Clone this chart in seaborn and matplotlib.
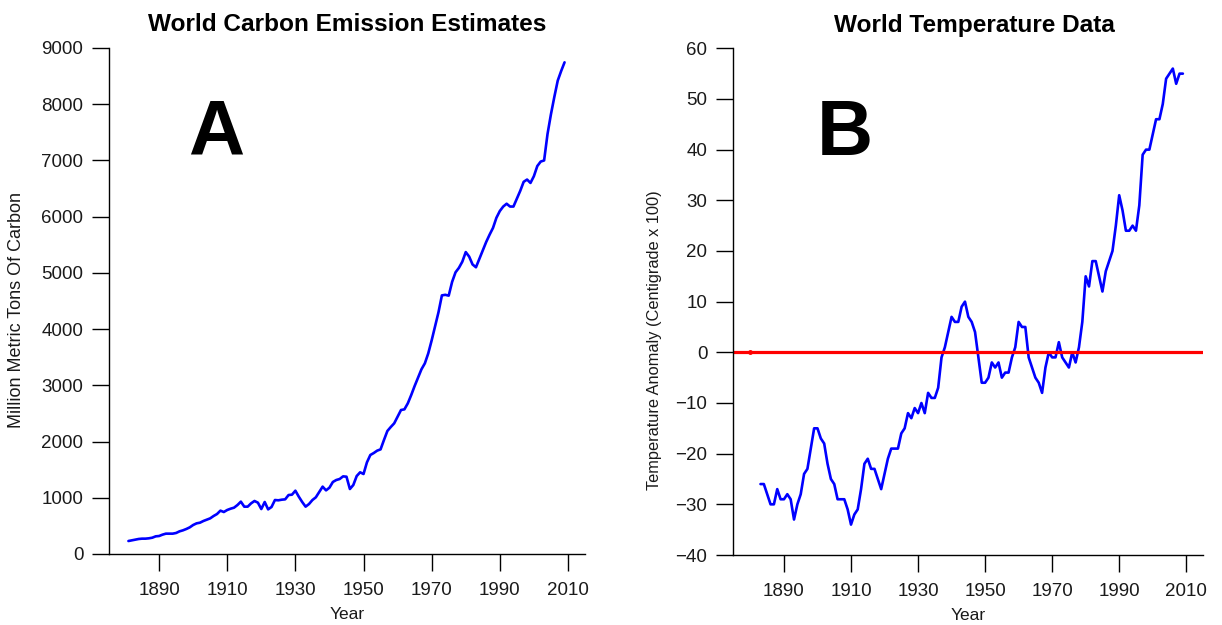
import numpy as np
import pandas as pd
import matplotlib
matplotlib.use("Agg")
import matplotlib.pyplot as plt
import seaborn as sns

# World carbon emissions, million metric tons of carbon, 1881-2009
carbon_years = list(range(1881, 2010))
carbon_values = [
    231, 243, 255, 267, 273, 273, 279, 290, 314, 320,          # 1881-1890
    344, 362, 362, 362, 374, 403, 421, 445, 474, 516,          # 1891-1900
    545, 557, 587, 611, 634, 676, 711, 771, 747, 783,          # 1901-1910
    806, 824, 871, 931, 842, 842, 901, 943, 913, 800,          # 1911-1920
    925, 794, 836, 960, 955, 966, 972, 1049, 1055, 1126,       # 1921-1930
    1020, 925, 842, 889, 960, 1008, 1103, 1198, 1132, 1180,    # 1931-1940
    1281, 1316, 1334, 1381, 1375, 1156, 1227, 1387, 1453, 1423,  # 1941-1950
    1630, 1761, 1796, 1838, 1861, 2028, 2188, 2259, 2324, 2443,  # 1951-1960
    2561, 2573, 2680, 2828, 2988, 3136, 3285, 3391, 3569, 3800,  # 1961-1970
    4050, 4300, 4600, 4610, 4595, 4840, 5010, 5090, 5200, 5370,  # 1971-1980
    5290, 5150, 5100, 5250, 5400, 5550, 5680, 5800, 5980, 6100,  # 1981-1990
    6180, 6230, 6180, 6180, 6320, 6460, 6620, 6660, 6600, 6720,  # 1991-2000
    6900, 6980, 7000, 7470, 7820, 8130, 8420, 8590, 8745,        # 2001-2009
]

# Global temperature anomaly, centigrade x 100, 1883-2009
temp_years = list(range(1883, 2010))
temp_values = [
    -26, -26, -28, -30, -30, -27, -29, -29,                    # 1883-1890
    -28, -29, -33, -30, -28, -24, -23, -19, -15, -15,          # 1891-1900
    -17, -18, -22, -25, -26, -29, -29, -29, -31, -34,          # 1901-1910
    -32, -31, -27, -22, -21, -23, -23, -25, -27, -24,          # 1911-1920
    -21, -19, -19, -19, -16, -15, -12, -13, -11, -12,          # 1921-1930
    -10, -12, -8, -9, -9, -7, -1, 1, 4, 7,                     # 1931-1940
    6, 6, 9, 10, 7, 6, 4, -1, -6, -6,                           # 1941-1950
    -5, -2, -3, -2, -5, -4, -4, -1, 1, 6,                       # 1951-1960
    5, 5, -1, -3, -5, -6, -8, -3, 0, -1,                        # 1961-1970
    -1, 2, -1, -2, -3, 0, -2, 1, 6, 15,                         # 1971-1980
    13, 18, 18, 15, 12, 16, 18, 20, 25, 31,                     # 1981-1990
    28, 24, 24, 25, 24, 29, 39, 40, 40, 43,                     # 1991-2000
    46, 46, 49, 54, 55, 56, 53, 55, 55,                         # 2001-2009
]

baseline_year = [1880]
baseline_value = [0]

carbon_ticks = list(range(0, 9001, 1000))
temp_ticks = list(range(-40, 61, 10))
year_ticks = list(range(1890, 2011, 20))

carbon_df = pd.DataFrame({"Year": carbon_years, "Carbon": carbon_values})
temp_df = pd.DataFrame({"Year": temp_years, "Anomaly": temp_values})

sns.set_style("ticks")
plt.rcParams["font.family"] = ["Liberation Sans", "DejaVu Sans"]
plt.rcParams["axes.unicode_minus"] = True
plt.rcParams["text.color"] = "black"

fig = plt.figure(figsize=(12.22, 6.25), dpi=100)
ax1 = fig.add_axes([109 / 1222, 1 - 554 / 625, 476 / 1222, 506 / 625])
ax2 = fig.add_axes([733 / 1222, 1 - 555 / 625, 470 / 1222, 506.7 / 625])

tick_kw = dict(length=12.5, width=1.0, color="black", labelsize=13.5,
               labelcolor="#1a1a1a", direction="out")
label_color = "#1a1a1a"

# Panel A: carbon emissions
sns.lineplot(data=carbon_df, x="Year", y="Carbon", ax=ax1, color="#0000ff",
             linewidth=1.9, estimator=None)
ax1.set_xlim(1875.3, 2015)
ax1.set_ylim(0, 9000)
ax1.set_yticks(carbon_ticks)
ax1.set_xticks(year_ticks)
ax1.set_title("World Carbon Emission Estimates", fontsize=17.6,
              fontweight="bold", pad=12, color="black")
ax1.set_ylabel("Million Metric Tons Of Carbon", fontsize=13, color=label_color)
ax1.set_xlabel("Year", fontsize=12.5, color=label_color)
ax1.yaxis.set_label_coords(-0.176, 0.482)
ax1.xaxis.set_label_coords(0.5, -0.104)
ax1.text(0.225, 0.789, "A", transform=ax1.transAxes, ha="center",
         va="baseline", fontsize=56, fontweight="bold", color="black")

# Panel B: temperature anomaly
sns.lineplot(data=temp_df, x="Year", y="Anomaly", ax=ax2, color="#0000ff",
             linewidth=1.9, estimator=None)
ax2.axhline(0, color="#ff0000", linewidth=2.3)
ax2.plot(baseline_year, baseline_value, "o", color="#ff0000", markersize=2.5)
ax2.set_xlim(1874.8, 2015)
ax2.set_ylim(-40, 60)
ax2.set_yticks(temp_ticks)
ax2.set_xticks(year_ticks)
ax2.set_title("World Temperature Data", fontsize=17.6, fontweight="bold",
              pad=12, x=0.513, color="black")
ax2.set_ylabel("Temperature Anomaly (Centigrade x 100)", fontsize=11.8,
               color=label_color)
ax2.set_xlabel("Year", fontsize=12.5, color=label_color)
ax2.yaxis.set_label_coords(-0.152, 0.424)
ax2.xaxis.set_label_coords(0.5, -0.104)
ax2.text(0.238, 0.789, "B", transform=ax2.transAxes, ha="center",
         va="baseline", fontsize=56, fontweight="bold", color="black")

for ax in (ax1, ax2):
    sns.despine(ax=ax)
    ax.spines["left"].set_linewidth(1.0)
    ax.spines["bottom"].set_linewidth(1.0)
    ax.spines["left"].set_color("black")
    ax.spines["bottom"].set_color("black")
    ax.tick_params(axis="both", **tick_kw)
    ax.tick_params(axis="x", pad=8)
    ax.tick_params(axis="y", pad=6)
    ax.grid(False)

fig.savefig("out.png", dpi=100)
